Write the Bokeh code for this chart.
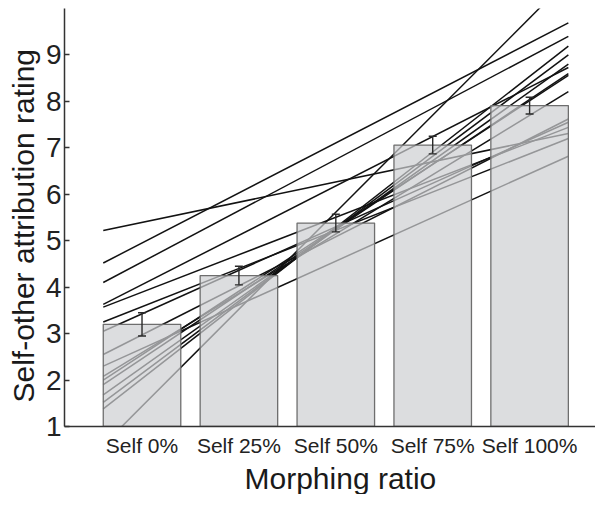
from bokeh.plotting import figure
from bokeh.models import FixedTicker, Whisker, ColumnDataSource, Range1d, TeeHead, Title
from bokeh.embed import file_html
from bokeh.resources import INLINE

# ---- data ----
categories = ["Self 0%", "Self 25%", "Self 50%", "Self 75%", "Self 100%"]
positions = [1, 2, 3, 4, 5]
means = [3.20, 4.25, 5.38, 7.06, 7.91]
sems = [0.25, 0.20, 0.19, 0.19, 0.18]
y_ticks = [1, 2, 3, 4, 5, 6, 7, 8, 9]

# individual participant fits: value at the left edge of first bar and right edge of last bar
line_start = [5.22, 4.52, 4.10, 3.63, 3.57, 0.60, 1.38, 1.52, 1.68, 1.90, 2.00, 2.08, 2.55, 3.05, 3.25, 2.30]
line_end   = [7.31, 9.69, 9.40, 8.73, 7.44, 10.63, 9.19, 9.00, 8.80, 8.60, 8.56, 8.21, 7.62, 7.55, 7.20, 6.82]

x_title = "Morphing ratio"
y_title = "Self-other attribution rating"

bar_width = 0.8
x_lo = positions[0] - bar_width / 2
x_hi = positions[-1] + bar_width / 2

FONT = "Liberation Sans"

p = figure(width=595, height=494,
           x_range=Range1d(0.2, 5.68), y_range=Range1d(1, 10),
           output_backend="svg", toolbar_location=None,
           min_border_left=64, min_border_right=0, min_border_top=8, min_border_bottom=0)
p.outline_line_color = None
p.xgrid.visible = False
p.ygrid.visible = False
p.background_fill_color = "white"
p.border_fill_color = "white"

n = len(line_start)
p.segment(x0=[x_lo] * n, y0=line_start, x1=[x_hi] * n, y1=line_end,
          line_color="#121212", line_width=1.5)

p.vbar(x=positions, top=means, bottom=0, width=bar_width,
       fill_color="#cdced2", fill_alpha=0.7, line_color="#6e6e6e", line_width=1.3)

src = ColumnDataSource(dict(x=positions,
                            upper=[m + s for m, s in zip(means, sems)],
                            lower=[m - s for m, s in zip(means, sems)]))
w = Whisker(source=src, base="x", upper="upper", lower="lower",
            line_color="#2a2a2a", line_width=1.4, level="annotation",
            upper_head=TeeHead(size=8, line_color="#2a2a2a", line_width=1.4),
            lower_head=TeeHead(size=8, line_color="#2a2a2a", line_width=1.4))
p.add_layout(w)

# y axis
ya = p.yaxis[0]
ya.ticker = FixedTicker(ticks=y_ticks)
ya.major_tick_in = 5
ya.major_tick_out = 0
ya.minor_tick_line_color = None
ya.axis_line_color = "#333333"
ya.axis_line_width = 1.5
ya.major_tick_line_color = "#333333"
ya.major_tick_line_width = 1.3
ya.major_label_text_font = FONT
ya.major_label_text_font_size = "28px"
ya.major_label_text_color = "#222222"
ya.major_label_standoff = 3

# x axis
xa = p.xaxis[0]
xa.ticker = FixedTicker(ticks=positions)
xa.major_label_overrides = {pos: lab for pos, lab in zip(positions, categories)}
xa.major_tick_in = 0
xa.major_tick_out = 0
xa.minor_tick_line_color = None
xa.axis_line_color = "#333333"
xa.axis_line_width = 1.5
xa.major_label_text_font = FONT
xa.major_label_text_font_size = "21px"
xa.major_label_text_color = "#222222"
xa.major_label_standoff = 7

# axis titles
p.add_layout(Title(text=x_title, align="left", offset=180, standoff=0,
                   text_font=FONT, text_font_size="30px", text_font_style="normal",
                   text_color="#1a1a1a"), "below")
p.add_layout(Title(text=y_title, align="left", offset=24, standoff=5,
                   text_font=FONT, text_font_size="30px", text_font_style="normal",
                   text_color="#1a1a1a"), "left")

open("out.html", "w").write(file_html(p, INLINE))
